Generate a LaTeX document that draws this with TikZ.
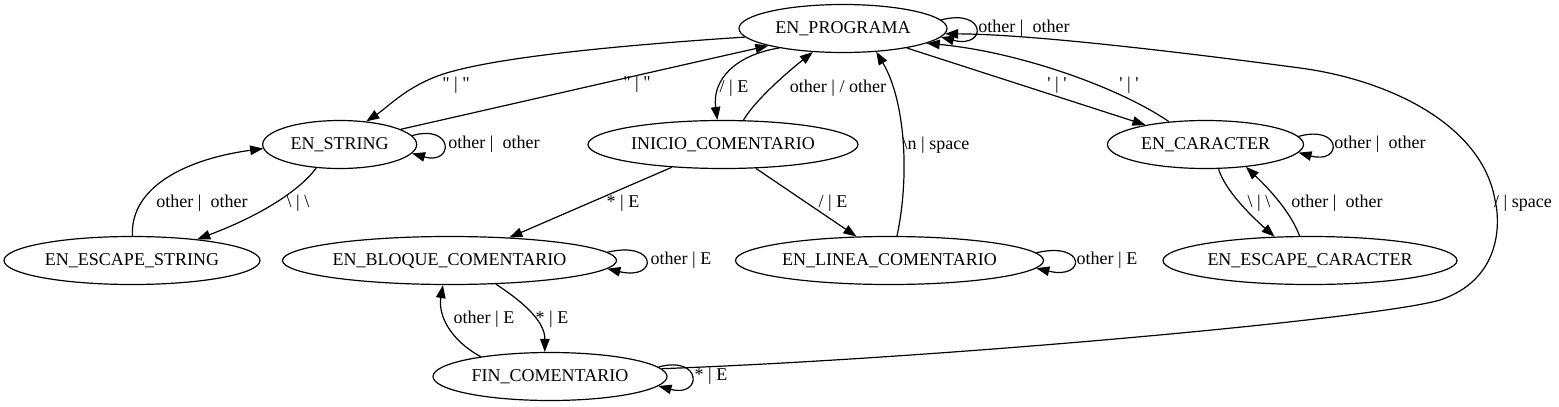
\documentclass[tikz,border=0pt]{standalone}
\usepackage{fontspec}
\setmainfont{Liberation Serif}[Ligatures=TeXOff]
\usetikzlibrary{arrows.meta,shapes.geometric}
\begin{document}
\begin{tikzpicture}[x=1pt,y=-1pt,
  st/.style={draw, ellipse, line width=1.2pt, minimum height=48pt, inner sep=0pt, font=\fontsize{18}{20}\selectfont},
  lb/.style={inner sep=0pt, font=\fontsize{18}{20}\selectfont},
  ar/.style={line width=1.2pt, -{Triangle[length=13pt,width=9.5pt]}},
]
\useasboundingbox (0,0) rectangle (1559,407);
% states
\node[st, minimum width=208pt] (prog) at (843,28.5) {EN\_PROGRAMA};
\node[st, minimum width=154pt] (str)  at (339.7,144.5) {EN\_STRING};
\node[st, minimum width=270pt] (ini)  at (723,144.5) {INICIO\_COMENTARIO};
\node[st, minimum width=196pt] (car)  at (1205.5,144.5) {EN\_CARACTER};
\node[st, minimum width=256pt] (escs) at (132,260.5) {EN\_ESCAPE\_STRING};
\node[st, minimum width=334pt] (bloq) at (449.5,260.5) {EN\_BLOQUE\_COMENTARIO};
\node[st, minimum width=308pt] (lin)  at (889.5,260.5) {EN\_LINEA\_COMENTARIO};
\node[st, minimum width=294pt] (escc) at (1310,260.5) {EN\_ESCAPE\_CARACTER};
\node[st, minimum width=234pt] (fin)  at (550,376.5) {FIN\_COMENTARIO};
% self loops
\draw[ar] (prog.5) .. controls +(46,-12) and +(46,12) .. (prog.-5);
\draw[ar] (str.7) .. controls +(42,-12) and +(42,12) .. (str.-7);
\draw[ar] (car.5) .. controls +(44,-12) and +(44,12) .. (car.-5);
\draw[ar] (bloq.3) .. controls +(51,-12) and +(51,12) .. (bloq.-3);
\draw[ar] (lin.3) .. controls +(50,-12) and +(50,12) .. (lin.-3);
\draw[ar] (fin.5) .. controls +(44,-12) and +(44,12) .. (fin.-5);
% transitions
\draw[ar] (prog.185) .. controls (640,44) and (510,55) .. (450,72) .. controls (410,83) and (388,107) .. (str.41);
\draw[ar] (str.14) .. controls (530,100) and (660,70) .. (prog.193);
\draw[ar] (prog.197) .. controls (735,55) and (712,80) .. (ini.103);
\draw[ar] (ini.50) .. controls (755,100) and (790,70) .. (prog.218);
\draw[ar] (lin.73) .. controls (910,175) and (905,100) .. (prog.-35);
\draw[ar] (prog.-17) -- (car.162);
\draw[ar] (car.148) .. controls (1120,88) and (1020,52) .. (prog.-10);
\draw[ar] (str.225) .. controls (300,190) and (262,215) .. (escs.18);
\draw[ar] (escs.89) .. controls (130,190) and (180,160) .. (str.183);
\draw[ar] (ini.204) -- (bloq.21);
\draw[ar] (ini.-36) -- (lin.144);
\draw[ar] (car.-62) .. controls (1225,190) and (1250,215) .. (escc.146);
\draw[ar] (escc.113) .. controls (1290,210) and (1265,185) .. (car.-29);
\draw[ar] (bloq.-27) .. controls (520,300) and (545,320) .. (fin.102);
\draw[ar] (fin.164) .. controls (450,340) and (438,315) .. (bloq.255);
\draw[ar] (fin.4) .. controls (950,358) and (1380,318) .. (1440,300) .. controls (1500,280) and (1501,225) .. (1495,200) .. controls (1482,125) and (1390,80) .. (1300,68) .. controls (1150,48) and (1020,34) .. (prog.-3);
% labels
\node[lb] (l1) at (1024,28.5) {other |~ other};
\node[lb] (l2) at (494,144.5) {other |~ other};
\node[lb] (l3) at (1380,144.5) {other |~ other};
\node[lb] (l4) at (681,260.5) {other | E};
\node[lb] (l5) at (1107,260.5) {other | E};
\node[lb] (l6) at (711,376.5) {* | E};
\node[lb] (l7) at (456,85) {" | "};
\node[lb] (l8) at (637,84) {" | "};
\node[lb] (l9) at (734,88) {/ | E};
\node[lb] (l10) at (838,88) {other | / other};
\node[lb] (l11) at (936,145) {\textbackslash n | space};
\node[lb] (l12) at (1057,85) {' | '};
\node[lb] (l13) at (1129,85) {' | '};
\node[lb] (l14) at (202,203) {other |~ other};
\node[lb] (l15) at (298,203) {\textbackslash{} | \textbackslash};
\node[lb] (l16) at (623,203) {* | E};
\node[lb] (l17) at (833,203) {/ | E};
\node[lb] (l18) at (1259,203) {\textbackslash{} | \textbackslash};
\node[lb] (l19) at (1337,203) {other |~ other};
\node[lb] (l20) at (1523,203) {/ | space};
\node[lb] (l21) at (552,319) {* | E};
\node[lb] (l22) at (484,319) {other | E};
\end{tikzpicture}
\end{document}
